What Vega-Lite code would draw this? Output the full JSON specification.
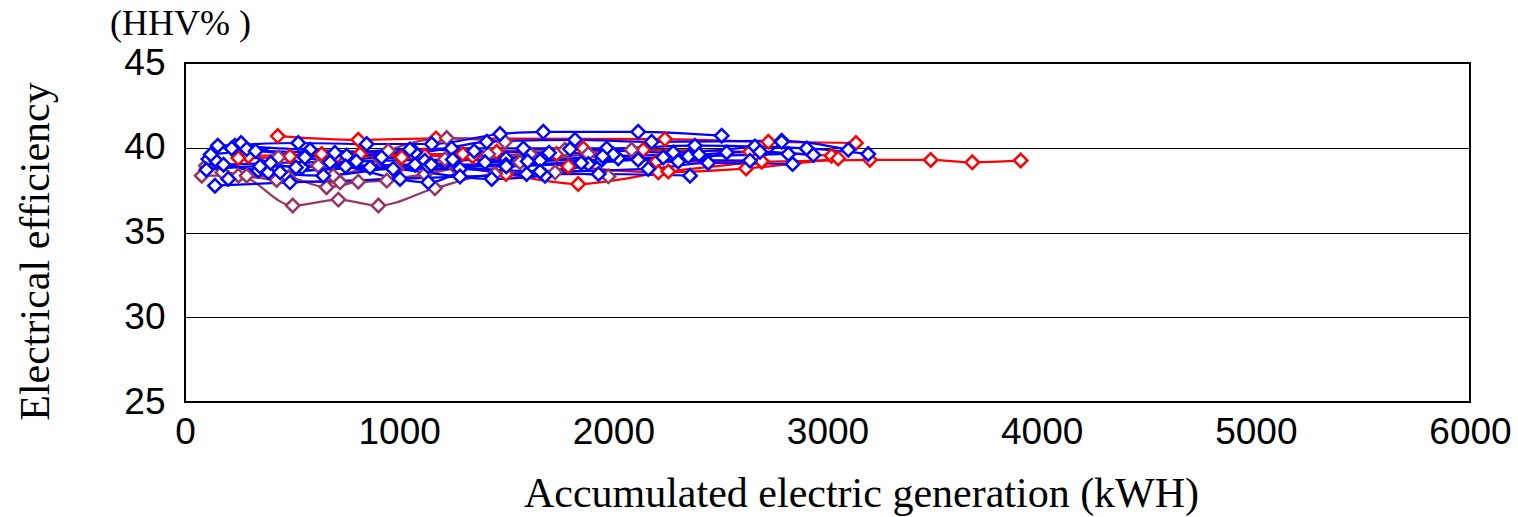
{
  "$schema": "https://vega.github.io/schema/vega-lite/v6.json",
  "autosize": {"type": "none"},
  "padding": {"left": 185, "top": 63, "right": 48, "bottom": 115},
  "width": 1285,
  "height": 339,
  "background": "white",
  "title": {"text": "(HHV% )", "anchor": "start", "frame": "group", "dx": -75, "offset": 1, "font": "Liberation Serif", "fontSize": 36, "fontWeight": "normal", "color": "black"},
  "config": {"view": {"stroke": "black", "strokeWidth": 2}},
  "datasets": {
    "pts": [
      {"s": "R1", "g": "red", "x": 433, "y": 40.69}, {"s": "R1", "g": "red", "x": 809, "y": 40.47}, {"s": "R1", "g": "red", "x": 1172, "y": 40.55}, {"s": "R1", "g": "red", "x": 2241, "y": 40.51}, {"s": "R1", "g": "red", "x": 2724, "y": 40.35}, {"s": "R1", "g": "red", "x": 3133, "y": 40.28},
      {"s": "R2", "g": "red", "x": 296, "y": 39.49}, {"s": "R2", "g": "red", "x": 638, "y": 39.63}, {"s": "R2", "g": "red", "x": 1113, "y": 39.53}, {"s": "R2", "g": "red", "x": 1455, "y": 39.76}, {"s": "R2", "g": "red", "x": 1860, "y": 39.96}, {"s": "R2", "g": "red", "x": 2202, "y": 39.18}, {"s": "R2", "g": "red", "x": 2693, "y": 39.18}, {"s": "R2", "g": "red", "x": 3198, "y": 39.29}, {"s": "R2", "g": "red", "x": 3482, "y": 39.28}, {"s": "R2", "g": "red", "x": 3676, "y": 39.14}, {"s": "R2", "g": "red", "x": 3902, "y": 39.25},
      {"s": "R3", "g": "red", "x": 249, "y": 39.39}, {"s": "R3", "g": "red", "x": 708, "y": 39.49}, {"s": "R3", "g": "red", "x": 1120, "y": 39.53}, {"s": "R3", "g": "red", "x": 1343, "y": 39.49}, {"s": "R3", "g": "red", "x": 1735, "y": 39.63}, {"s": "R3", "g": "red", "x": 2140, "y": 39.88}, {"s": "R3", "g": "red", "x": 2638, "y": 39.76}, {"s": "R3", "g": "red", "x": 3019, "y": 39.53},
      {"s": "R4", "g": "red", "x": 490, "y": 39.49}, {"s": "R4", "g": "red", "x": 817, "y": 39.63}, {"s": "R4", "g": "red", "x": 1297, "y": 39.63}, {"s": "R4", "g": "red", "x": 1790, "y": 38.9}, {"s": "R4", "g": "red", "x": 2210, "y": 38.55}, {"s": "R4", "g": "red", "x": 2620, "y": 38.78}, {"s": "R4", "g": "red", "x": 3050, "y": 39.37},
      {"s": "R5", "g": "red", "x": 1012, "y": 39.43}, {"s": "R5", "g": "red", "x": 1499, "y": 38.45}, {"s": "R5", "g": "red", "x": 1836, "y": 37.86}, {"s": "R5", "g": "red", "x": 2257, "y": 38.6}, {"s": "R5", "g": "red", "x": 2693, "y": 39.2},
      {"s": "P1", "g": "purple", "x": 78, "y": 38.35}, {"s": "P1", "g": "purple", "x": 249, "y": 38.35}, {"s": "P1", "g": "purple", "x": 503, "y": 36.59}, {"s": "P1", "g": "purple", "x": 716, "y": 36.94}, {"s": "P1", "g": "purple", "x": 903, "y": 36.59}, {"s": "P1", "g": "purple", "x": 1167, "y": 37.61}, {"s": "P1", "g": "purple", "x": 1447, "y": 38.45}, {"s": "P1", "g": "purple", "x": 1728, "y": 38.55}, {"s": "P1", "g": "purple", "x": 1977, "y": 38.31},
      {"s": "P2", "g": "purple", "x": 98, "y": 38.94}, {"s": "P2", "g": "purple", "x": 288, "y": 38.35}, {"s": "P2", "g": "purple", "x": 482, "y": 38.25}, {"s": "P2", "g": "purple", "x": 661, "y": 37.67}, {"s": "P2", "g": "purple", "x": 809, "y": 38.0}, {"s": "P2", "g": "purple", "x": 1120, "y": 38.45}, {"s": "P2", "g": "purple", "x": 1416, "y": 39.63}, {"s": "P2", "g": "purple", "x": 1774, "y": 39.88}, {"s": "P2", "g": "purple", "x": 2085, "y": 39.88},
      {"s": "P3", "g": "purple", "x": 174, "y": 38.55}, {"s": "P3", "g": "purple", "x": 428, "y": 38.1}, {"s": "P3", "g": "purple", "x": 724, "y": 37.96}, {"s": "P3", "g": "purple", "x": 942, "y": 38.06}, {"s": "P3", "g": "purple", "x": 1269, "y": 38.78}, {"s": "P3", "g": "purple", "x": 1564, "y": 39.14}, {"s": "P3", "g": "purple", "x": 1883, "y": 39.63},
      {"s": "P4", "g": "purple", "x": 436, "y": 39.43}, {"s": "P4", "g": "purple", "x": 622, "y": 38.94}, {"s": "P4", "g": "purple", "x": 988, "y": 38.75}, {"s": "P4", "g": "purple", "x": 1214, "y": 39.33}, {"s": "P4", "g": "purple", "x": 1611, "y": 39.63},
      {"s": "P5", "g": "purple", "x": 692, "y": 38.35}, {"s": "P5", "g": "purple", "x": 910, "y": 39.33}, {"s": "P5", "g": "purple", "x": 949, "y": 39.82}, {"s": "P5", "g": "purple", "x": 1222, "y": 40.57}, {"s": "P5", "g": "purple", "x": 1494, "y": 40.35},
      {"s": "B1", "g": "blue", "x": 153, "y": 40.12}, {"s": "B1", "g": "blue", "x": 529, "y": 40.28}, {"s": "B1", "g": "blue", "x": 848, "y": 40.22}, {"s": "B1", "g": "blue", "x": 1152, "y": 40.22}, {"s": "B1", "g": "blue", "x": 1471, "y": 40.81}, {"s": "B1", "g": "blue", "x": 1673, "y": 40.94}, {"s": "B1", "g": "blue", "x": 2116, "y": 40.94}, {"s": "B1", "g": "blue", "x": 2506, "y": 40.71},
      {"s": "B2", "g": "blue", "x": 233, "y": 40.12}, {"s": "B2", "g": "blue", "x": 584, "y": 39.88}, {"s": "B2", "g": "blue", "x": 1074, "y": 39.72}, {"s": "B2", "g": "blue", "x": 1409, "y": 40.35}, {"s": "B2", "g": "blue", "x": 1821, "y": 40.47}, {"s": "B2", "g": "blue", "x": 2179, "y": 40.35}, {"s": "B2", "g": "blue", "x": 2786, "y": 40.41}, {"s": "B2", "g": "blue", "x": 3097, "y": 39.88},
      {"s": "B3", "g": "blue", "x": 262, "y": 40.28}, {"s": "B3", "g": "blue", "x": 560, "y": 39.53}, {"s": "B3", "g": "blue", "x": 755, "y": 39.53}, {"s": "B3", "g": "blue", "x": 1245, "y": 39.96}, {"s": "B3", "g": "blue", "x": 1580, "y": 39.96}, {"s": "B3", "g": "blue", "x": 1969, "y": 39.96}, {"s": "B3", "g": "blue", "x": 2381, "y": 40.12}, {"s": "B3", "g": "blue", "x": 2903, "y": 39.96}, {"s": "B3", "g": "blue", "x": 3190, "y": 39.63},
      {"s": "B4", "g": "blue", "x": 218, "y": 39.96}, {"s": "B4", "g": "blue", "x": 545, "y": 38.84}, {"s": "B4", "g": "blue", "x": 918, "y": 39.43}, {"s": "B4", "g": "blue", "x": 1120, "y": 39.24}, {"s": "B4", "g": "blue", "x": 1499, "y": 39.37}, {"s": "B4", "g": "blue", "x": 1798, "y": 39.92}, {"s": "B4", "g": "blue", "x": 2280, "y": 39.72}, {"s": "B4", "g": "blue", "x": 2661, "y": 40.08},
      {"s": "B5", "g": "blue", "x": 288, "y": 39.92}, {"s": "B5", "g": "blue", "x": 560, "y": 39.43}, {"s": "B5", "g": "blue", "x": 677, "y": 39.14}, {"s": "B5", "g": "blue", "x": 1136, "y": 37.96}, {"s": "B5", "g": "blue", "x": 1401, "y": 39.14}, {"s": "B5", "g": "blue", "x": 1658, "y": 39.24}, {"s": "B5", "g": "blue", "x": 1946, "y": 39.29}, {"s": "B5", "g": "blue", "x": 2350, "y": 39.49}, {"s": "B5", "g": "blue", "x": 2817, "y": 39.63},
      {"s": "B6", "g": "blue", "x": 109, "y": 39.33}, {"s": "B6", "g": "blue", "x": 342, "y": 38.65}, {"s": "B6", "g": "blue", "x": 646, "y": 38.35}, {"s": "B6", "g": "blue", "x": 972, "y": 38.75}, {"s": "B6", "g": "blue", "x": 1284, "y": 38.75}, {"s": "B6", "g": "blue", "x": 1595, "y": 38.45}, {"s": "B6", "g": "blue", "x": 1883, "y": 39.04}, {"s": "B6", "g": "blue", "x": 2233, "y": 39.43}, {"s": "B6", "g": "blue", "x": 2685, "y": 39.76}, {"s": "B6", "g": "blue", "x": 2934, "y": 39.57},
      {"s": "B7", "g": "blue", "x": 148, "y": 39.19}, {"s": "B7", "g": "blue", "x": 389, "y": 38.55}, {"s": "B7", "g": "blue", "x": 864, "y": 38.84}, {"s": "B7", "g": "blue", "x": 1432, "y": 38.16}, {"s": "B7", "g": "blue", "x": 1681, "y": 38.35}, {"s": "B7", "g": "blue", "x": 2023, "y": 39.37}, {"s": "B7", "g": "blue", "x": 2303, "y": 39.18}, {"s": "B7", "g": "blue", "x": 2529, "y": 39.72},
      {"s": "B8", "g": "blue", "x": 140, "y": 37.76}, {"s": "B8", "g": "blue", "x": 490, "y": 37.96}, {"s": "B8", "g": "blue", "x": 1004, "y": 38.16}, {"s": "B8", "g": "blue", "x": 1284, "y": 38.3}, {"s": "B8", "g": "blue", "x": 1931, "y": 38.45}, {"s": "B8", "g": "blue", "x": 2358, "y": 38.35},
      {"s": "B9", "g": "blue", "x": 202, "y": 38.16}, {"s": "B9", "g": "blue", "x": 444, "y": 38.55}, {"s": "B9", "g": "blue", "x": 1136, "y": 38.9}, {"s": "B9", "g": "blue", "x": 1658, "y": 38.6}, {"s": "B9", "g": "blue", "x": 2163, "y": 38.75}, {"s": "B9", "g": "blue", "x": 2443, "y": 39.1}, {"s": "B9", "g": "blue", "x": 2837, "y": 39.04},
      {"s": "B10", "g": "blue", "x": 518, "y": 38.84}, {"s": "B10", "g": "blue", "x": 1074, "y": 39.0}, {"s": "B10", "g": "blue", "x": 1499, "y": 39.0}, {"s": "B10", "g": "blue", "x": 2116, "y": 39.29}, {"s": "B10", "g": "blue", "x": 2638, "y": 39.24}, {"s": "B10", "g": "blue", "x": 2786, "y": 40.35},
      {"s": "B11", "g": "blue", "x": 120, "y": 39.6}, {"s": "B11", "g": "blue", "x": 330, "y": 39.8}, {"s": "B11", "g": "blue", "x": 700, "y": 39.7}, {"s": "B11", "g": "blue", "x": 1050, "y": 39.9}, {"s": "B11", "g": "blue", "x": 1350, "y": 39.8}, {"s": "B11", "g": "blue", "x": 1700, "y": 39.7}, {"s": "B11", "g": "blue", "x": 2000, "y": 39.6},
      {"s": "B12", "g": "blue", "x": 180, "y": 39.0}, {"s": "B12", "g": "blue", "x": 400, "y": 39.1}, {"s": "B12", "g": "blue", "x": 800, "y": 39.2}, {"s": "B12", "g": "blue", "x": 1250, "y": 39.3}, {"s": "B12", "g": "blue", "x": 1600, "y": 39.2}, {"s": "B12", "g": "blue", "x": 1950, "y": 39.5}, {"s": "B12", "g": "blue", "x": 2400, "y": 39.6},
      {"s": "B13", "g": "blue", "x": 100, "y": 38.7}, {"s": "B13", "g": "blue", "x": 350, "y": 38.9}, {"s": "B13", "g": "blue", "x": 750, "y": 38.9}, {"s": "B13", "g": "blue", "x": 1150, "y": 39.0}, {"s": "B13", "g": "blue", "x": 1500, "y": 38.9}, {"s": "B13", "g": "blue", "x": 1850, "y": 39.1}
    ]
  },
  "data": {"name": "pts"},
  "encoding": {
    "x": {"field": "x", "type": "quantitative", "scale": {"domain": [0, 6000], "nice": false},
      "axis": {"values": [0, 1000, 2000, 3000, 4000, 5000, 6000], "format": "d", "grid": false, "ticks": false, "domain": false, "labelFont": "Liberation Sans", "labelFontSize": 37, "labelColor": "black", "labelPadding": 12, "labelFlush": false,
        "title": "Accumulated electric generation (kWH)", "titleFont": "Liberation Serif", "titleFontSize": 42, "titleFontWeight": "normal", "titleColor": "black", "titleX": 676, "titleY": 91, "titleBaseline": "middle", "titleAlign": "center"}},
    "y": {"field": "y", "type": "quantitative", "scale": {"domain": [25, 45], "nice": false, "zero": false},
      "axis": {"values": [25, 30, 35, 40, 45], "format": "d", "grid": true, "gridColor": "black", "gridWidth": 1.2, "gridOpacity": 1, "ticks": false, "domain": false, "labelFont": "Liberation Sans", "labelFontSize": 37, "labelColor": "black", "labelPadding": 20, "labelFlush": false,
        "title": "Electrical efficiency", "titleFont": "Liberation Serif", "titleFontSize": 42, "titleFontWeight": "normal", "titleColor": "black", "titleX": -150, "titleY": 188, "titleBaseline": "middle", "titleAlign": "center", "titleAngle": -90}},
    "color": {"field": "g", "type": "nominal", "scale": {"domain": ["blue", "red", "purple"], "range": ["#0000FF", "#FF0000", "#993366"]}, "legend": null},
    "detail": {"field": "s", "type": "nominal"}
  },
  "layer": [
    {"mark": {"type": "line", "strokeWidth": 2.2, "interpolate": "monotone"}},
    {"mark": {"type": "point", "shape": "diamond", "size": 180, "filled": false, "fill": "white", "fillOpacity": 1, "strokeWidth": 2.5, "opacity": 1}}
  ]
}
